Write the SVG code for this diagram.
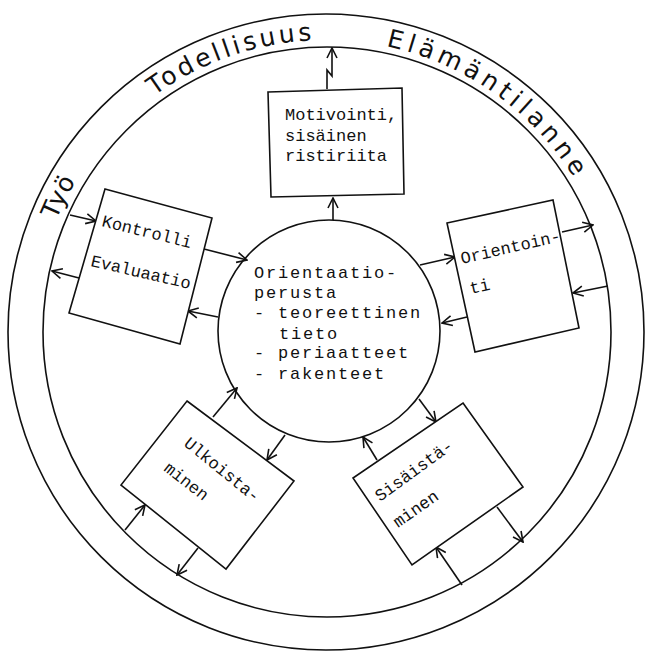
<svg xmlns="http://www.w3.org/2000/svg" width="647" height="653" viewBox="0 0 647 653">
<defs>
<marker id="ah" viewBox="0 0 12 12" refX="11" refY="6" markerWidth="12" markerHeight="12" markerUnits="userSpaceOnUse" orient="auto">
<path d="M1,1 L11,6 L1,11" fill="none" stroke="#111" stroke-width="1.6"/>
</marker>
<path id="ringPath" d="M 34 332 A 292 292 0 0 1 618 332"/>
</defs>
<style>
.ln{fill:none;stroke:#111;stroke-width:1.6}
.box{fill:#fff;stroke:#111;stroke-width:1.6}
.arr{fill:none;stroke:#111;stroke-width:1.6;marker-end:url(#ah)}
.tw{font-family:"Liberation Mono","Courier New",monospace;font-size:17px;fill:#111}
.tc{font-family:"Liberation Mono","Courier New",monospace;font-size:17px;letter-spacing:1.8px;fill:#111}
.tr{font-family:"DejaVu Sans",sans-serif;font-size:25px;fill:#111}
</style>
<rect width="647" height="653" fill="#fff"/>
<g id="rings">
<circle cx="326" cy="332" r="318" class="ln"/>
<ellipse cx="327" cy="332" rx="284" ry="285" class="ln"/>
</g>
<g id="ring-labels">
<text class="tr" letter-spacing="1"><textPath href="#ringPath" startOffset="115">Työ</textPath></text>
<text class="tr" letter-spacing="3.3"><textPath href="#ringPath" startOffset="275">Todellisuus</textPath></text>
<text class="tr" letter-spacing="4.6"><textPath href="#ringPath" startOffset="519">Elämäntilanne</textPath></text>
</g>
<g id="connectors">
<line class="arr" x1="333" y1="220" x2="333" y2="198"/>
<path class="arr" d="M327 89 L327 70 L332 76 L332 48"/>
<line class="arr" x1="70" y1="215" x2="96" y2="221"/>
<line class="arr" x1="79" y1="278" x2="52" y2="271"/>
<line class="arr" x1="204" y1="249" x2="247" y2="260"/>
<line class="arr" x1="218" y1="317" x2="188" y2="311"/>
<line class="arr" x1="420" y1="265" x2="455" y2="257"/>
<line class="arr" x1="467" y1="317" x2="442" y2="323"/>
<line class="arr" x1="562" y1="232" x2="593" y2="225"/>
<line class="arr" x1="608" y1="286" x2="573" y2="293"/>
<line class="arr" x1="213" y1="417" x2="237" y2="388"/>
<line class="arr" x1="285" y1="435" x2="267" y2="460"/>
<line class="arr" x1="125" y1="530" x2="145" y2="505"/>
<line class="arr" x1="198" y1="548" x2="177" y2="575"/>
<line class="arr" x1="377" y1="460" x2="363" y2="437"/>
<line class="arr" x1="419" y1="399" x2="436" y2="422"/>
<line class="arr" x1="497" y1="507" x2="523" y2="542"/>
<line class="arr" x1="462" y1="585" x2="436" y2="547"/>
</g>
<g id="orientaatioperusta">
<circle cx="329" cy="331" r="111" class="ln"/>
<text class="tc" x="254" y="278">Orientaatio-</text>
<text class="tc" x="254" y="298">perusta</text>
<text class="tc" x="254" y="318">- teoreettinen</text>
<text class="tc" x="279" y="339">tieto</text>
<text class="tc" x="254" y="358">- periaatteet</text>
<text class="tc" x="254" y="379">- rakenteet</text>
</g>
<g id="motivointi">
<polygon class="box" points="268,92 402,88 404,194 271,197"/>
<text class="tw" x="285" y="120">Motivointi,</text>
<text class="tw" x="285" y="141">sisäinen</text>
<text class="tw" x="285" y="161">ristiriita</text>
</g>
<g id="kontrolli">
<polygon class="box" points="105,189 212,218 180,344 69,313"/>
<text class="tw" x="101" y="226" transform="rotate(14 101 226)">Kontrolli</text>
<text class="tw" x="90" y="266" transform="rotate(13 90 266)">Evaluaatio</text>
</g>
<g id="orientointi">
<polygon class="box" points="447,223 553,200 579,328 475,352"/>
<text class="tw" x="462" y="264" transform="rotate(-13 462 264)">Orientoin-</text>
<text class="tw" x="471" y="294" transform="rotate(-13 471 294)">ti</text>
</g>
<g id="ulkoistaminen">
<polygon class="box" points="187,401 294,481 226,569 121,485"/>
<text class="tw" x="183" y="445" transform="rotate(39 183 445)">Ulkoista-</text>
<text class="tw" x="163" y="470" transform="rotate(38 163 470)">minen</text>
</g>
<g id="sisaistaminen">
<polygon class="box" points="463,403 523,487 412,565 353,478"/>
<text class="tw" x="380" y="502" transform="rotate(-36 380 502)">Sisäistä-</text>
<text class="tw" x="398" y="528" transform="rotate(-35 398 528)">minen</text>
</g>
</svg>
